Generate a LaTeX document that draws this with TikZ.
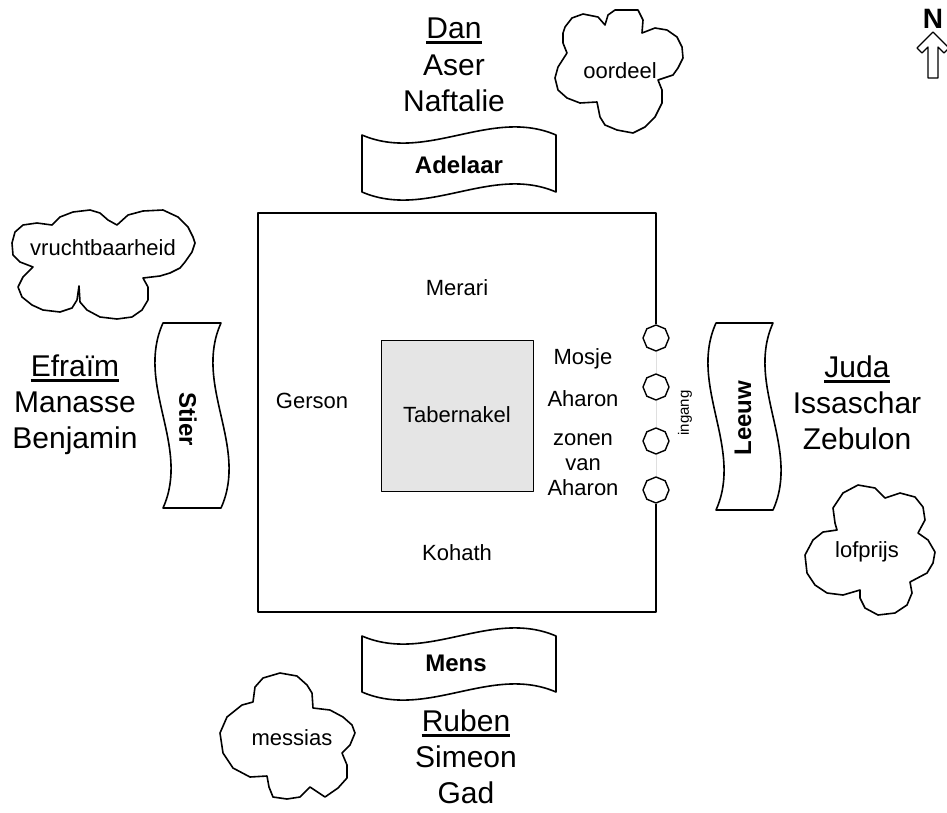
\documentclass[tikz,border=0pt]{standalone}
\usepackage{fontspec}
\setmainfont{Liberation Sans}
\usetikzlibrary{shapes.geometric}

\begin{document}
\begin{tikzpicture}[x=1pt,y=-1pt,line join=round,
  stam/.style={anchor=base,inner sep=0,font=\fontsize{30}{36}\selectfont},
  onder/.style={line width=2.2pt},
  klein/.style={anchor=base,inner sep=0,font=\fontsize{22}{25}\selectfont,align=center},
  dier/.style={inner sep=0,font=\bfseries\fontsize{24}{28}\selectfont},
  vlag/.style={draw,line width=1.6pt,fill=white},
  muur/.style={draw,line width=1.3pt},
  wolk/.style={draw,line width=1.6pt},
  poort/.style={regular polygon,regular polygon sides=8,shape border rotate=22.5,draw,line width=1.4pt,minimum size=26pt,inner sep=0,fill=white}]

\useasboundingbox (0,0) rectangle (947,812);

% noorden
\node [anchor=base,inner sep=0,font=\bfseries\fontsize{28}{30}\selectfont] (noord) at (933,28) {N};
\draw [line width=1.2pt] (933,32) -- (917,48) -- (922,53) -- (928,47) -- (928,78)
  -- (938,78) -- (938,47) -- (944,53) -- (949,48) -- cycle;

% de stammen
\node [stam] (dan) at (454,38) {Dan};
\node [stam] (aser) at (454,75) {Aser};
\node [stam] (naftalie) at (454,111) {Naftalie};

\node [stam] (efraim) at (75,376) {Efraïm};
\node [stam] (manasse) at (75,412) {Manasse};
\node [stam] (benjamin) at (75,448) {Benjamin};

\node [stam] (juda) at (857,377) {Juda};
\node [stam] (issaschar) at (857,413) {Issaschar};
\node [stam] (zebulon) at (857,449) {Zebulon};

\node [stam] (ruben) at (466,731) {Ruben};
\node [stam] (simeon) at (466,767) {Simeon};
\node [stam] (gad) at (466,803) {Gad};

\foreach \s in {dan,efraim,juda,ruben}
  \draw [onder] ([yshift=-4.5pt]\s.base west) -- ([yshift=-4.5pt]\s.base east);

% vaandels
\path [vlag] (362,135) .. controls (427,163) and (491,107) .. (556,135)
  -- (556,192) .. controls (491,164) and (427,220) .. (362,192) -- cycle;
\node [dier] (adelaar) at (459,165) {Adelaar};

\path [vlag] (362,636) .. controls (427,664) and (491,608) .. (556,636)
  -- (556,692) .. controls (491,664) and (427,720) .. (362,692) -- cycle;
\node [dier] (mens) at (456,663) {Mens};

\path [vlag] (163,323) .. controls (135,385) and (191,446) .. (163,508)
  -- (221,508) .. controls (249,446) and (193,385) .. (221,323) -- cycle;
\node [dier,rotate=-90] (stier) at (188,419) {Stier};

\path [vlag] (716,323) .. controls (688,385) and (744,448) .. (716,510)
  -- (773,510) .. controls (801,448) and (745,385) .. (773,323) -- cycle;
\node [dier,rotate=90] (leeuw) at (743,418) {Leeuw};

% wolken
\draw [wolk] (565,27) -- (572,18) -- (583,14) -- (598,17) -- (605,25) -- (608,15)
  -- (615,10) -- (638,10) -- (643,20) -- (642,33) -- (655,28) -- (667,30)
  -- (677,37) -- (682,47) -- (683,58) -- (678,68) -- (673,75) -- (658,80)
  -- (662,90) -- (662,103) -- (655,117) -- (645,127) -- (633,133) -- (617,130)
  -- (605,125) -- (600,117) -- (597,102) -- (580,103) -- (567,98) -- (558,90)
  -- (555,78) -- (558,67) -- (567,53) -- (563,43) -- (563,33) -- cycle;
\node [klein] (oordeel) at (620,78) {oordeel};

\draw [wolk] (12,243) -- (15,232) -- (23,225) -- (37,223) -- (52,225) -- (60,217)
  -- (73,212) -- (90,210) -- (100,213) -- (108,220) -- (117,225) -- (128,215)
  -- (143,211) -- (163,210) -- (178,217) -- (188,227) -- (193,237) -- (195,243)
  -- (192,252) -- (185,262) -- (180,268) -- (170,273) -- (160,276) -- (143,278)
  -- (148,287) -- (148,300) -- (142,310) -- (132,317) -- (117,319) -- (100,317)
  -- (87,310) -- (80,302) -- (79,286) -- (77,300) -- (72,308) -- (60,312)
  -- (43,310) -- (32,305) -- (22,297) -- (18,287) -- (23,277) -- (33,267)
  -- (20,262) -- (13,255) -- cycle;
\node [klein] (vrucht) at (103,255) {vruchtbaarheid};

\draw [wolk] (843,493) -- (858,485) -- (875,488) -- (885,498) -- (900,493)
  -- (915,497) -- (923,507) -- (925,520) -- (918,533) -- (928,540) -- (935,552)
  -- (933,563) -- (927,573) -- (910,582) -- (912,593) -- (907,605) -- (895,613)
  -- (878,615) -- (865,608) -- (860,598) -- (860,590) -- (843,595) -- (827,593)
  -- (815,585) -- (807,573) -- (805,555) -- (813,540) -- (823,532) -- (837,530)
  -- (835,523) -- (833,508) -- cycle;
\node [klein] (lofprijs) at (867,557) {lofprijs};

\draw [wolk] (255,687) -- (263,678) -- (280,673) -- (297,676) -- (307,685)
  -- (312,693) -- (313,708) -- (330,710) -- (343,717) -- (352,725) -- (355,733)
  -- (350,745) -- (342,753) -- (347,765) -- (347,778) -- (338,788) -- (325,797)
  -- (310,787) -- (300,797) -- (287,799) -- (273,797) -- (269,787) -- (267,776)
  -- (250,777) -- (233,768) -- (223,753) -- (220,733) -- (227,717) -- (242,705)
  -- (253,702) -- cycle;
\node [klein] (messias) at (292,745) {messias};

% voorhof
\node [poort] (p1) at (656,338) {};
\node [poort] (p2) at (656,387) {};
\node [poort] (p3) at (656,441) {};
\node [poort] (p4) at (656,490) {};

\path [muur] (p1.north) |- (258,213) |- (656,612) -- (p4.south);
\draw [gray!25,line width=1pt] (p1.south) -- (p2.north) (p2.south) -- (p3.north)
  (p3.south) -- (p4.north);
\node [inner sep=0,font=\fontsize{15}{17}\selectfont,rotate=90] (ingang) at (685,413) {ingang};

\draw [line width=1pt,fill=gray!20] (381,340) rectangle (533,491);
\node [klein] (tabernakel) at (457,422) {Tabernakel};

\node [klein] (merari) at (457,295) {Merari};
\node [klein] (gerson) at (312,408) {Gerson};
\node [klein] (kohath) at (457,560) {Kohath};
\node [klein] (mosje) at (583,364) {Mosje};
\node [klein] (aharon) at (583,406) {Aharon};
\node [klein,anchor=center] (zonen) at (583,465) {zonen\\van\\Aharon};

\end{tikzpicture}
\end{document}
